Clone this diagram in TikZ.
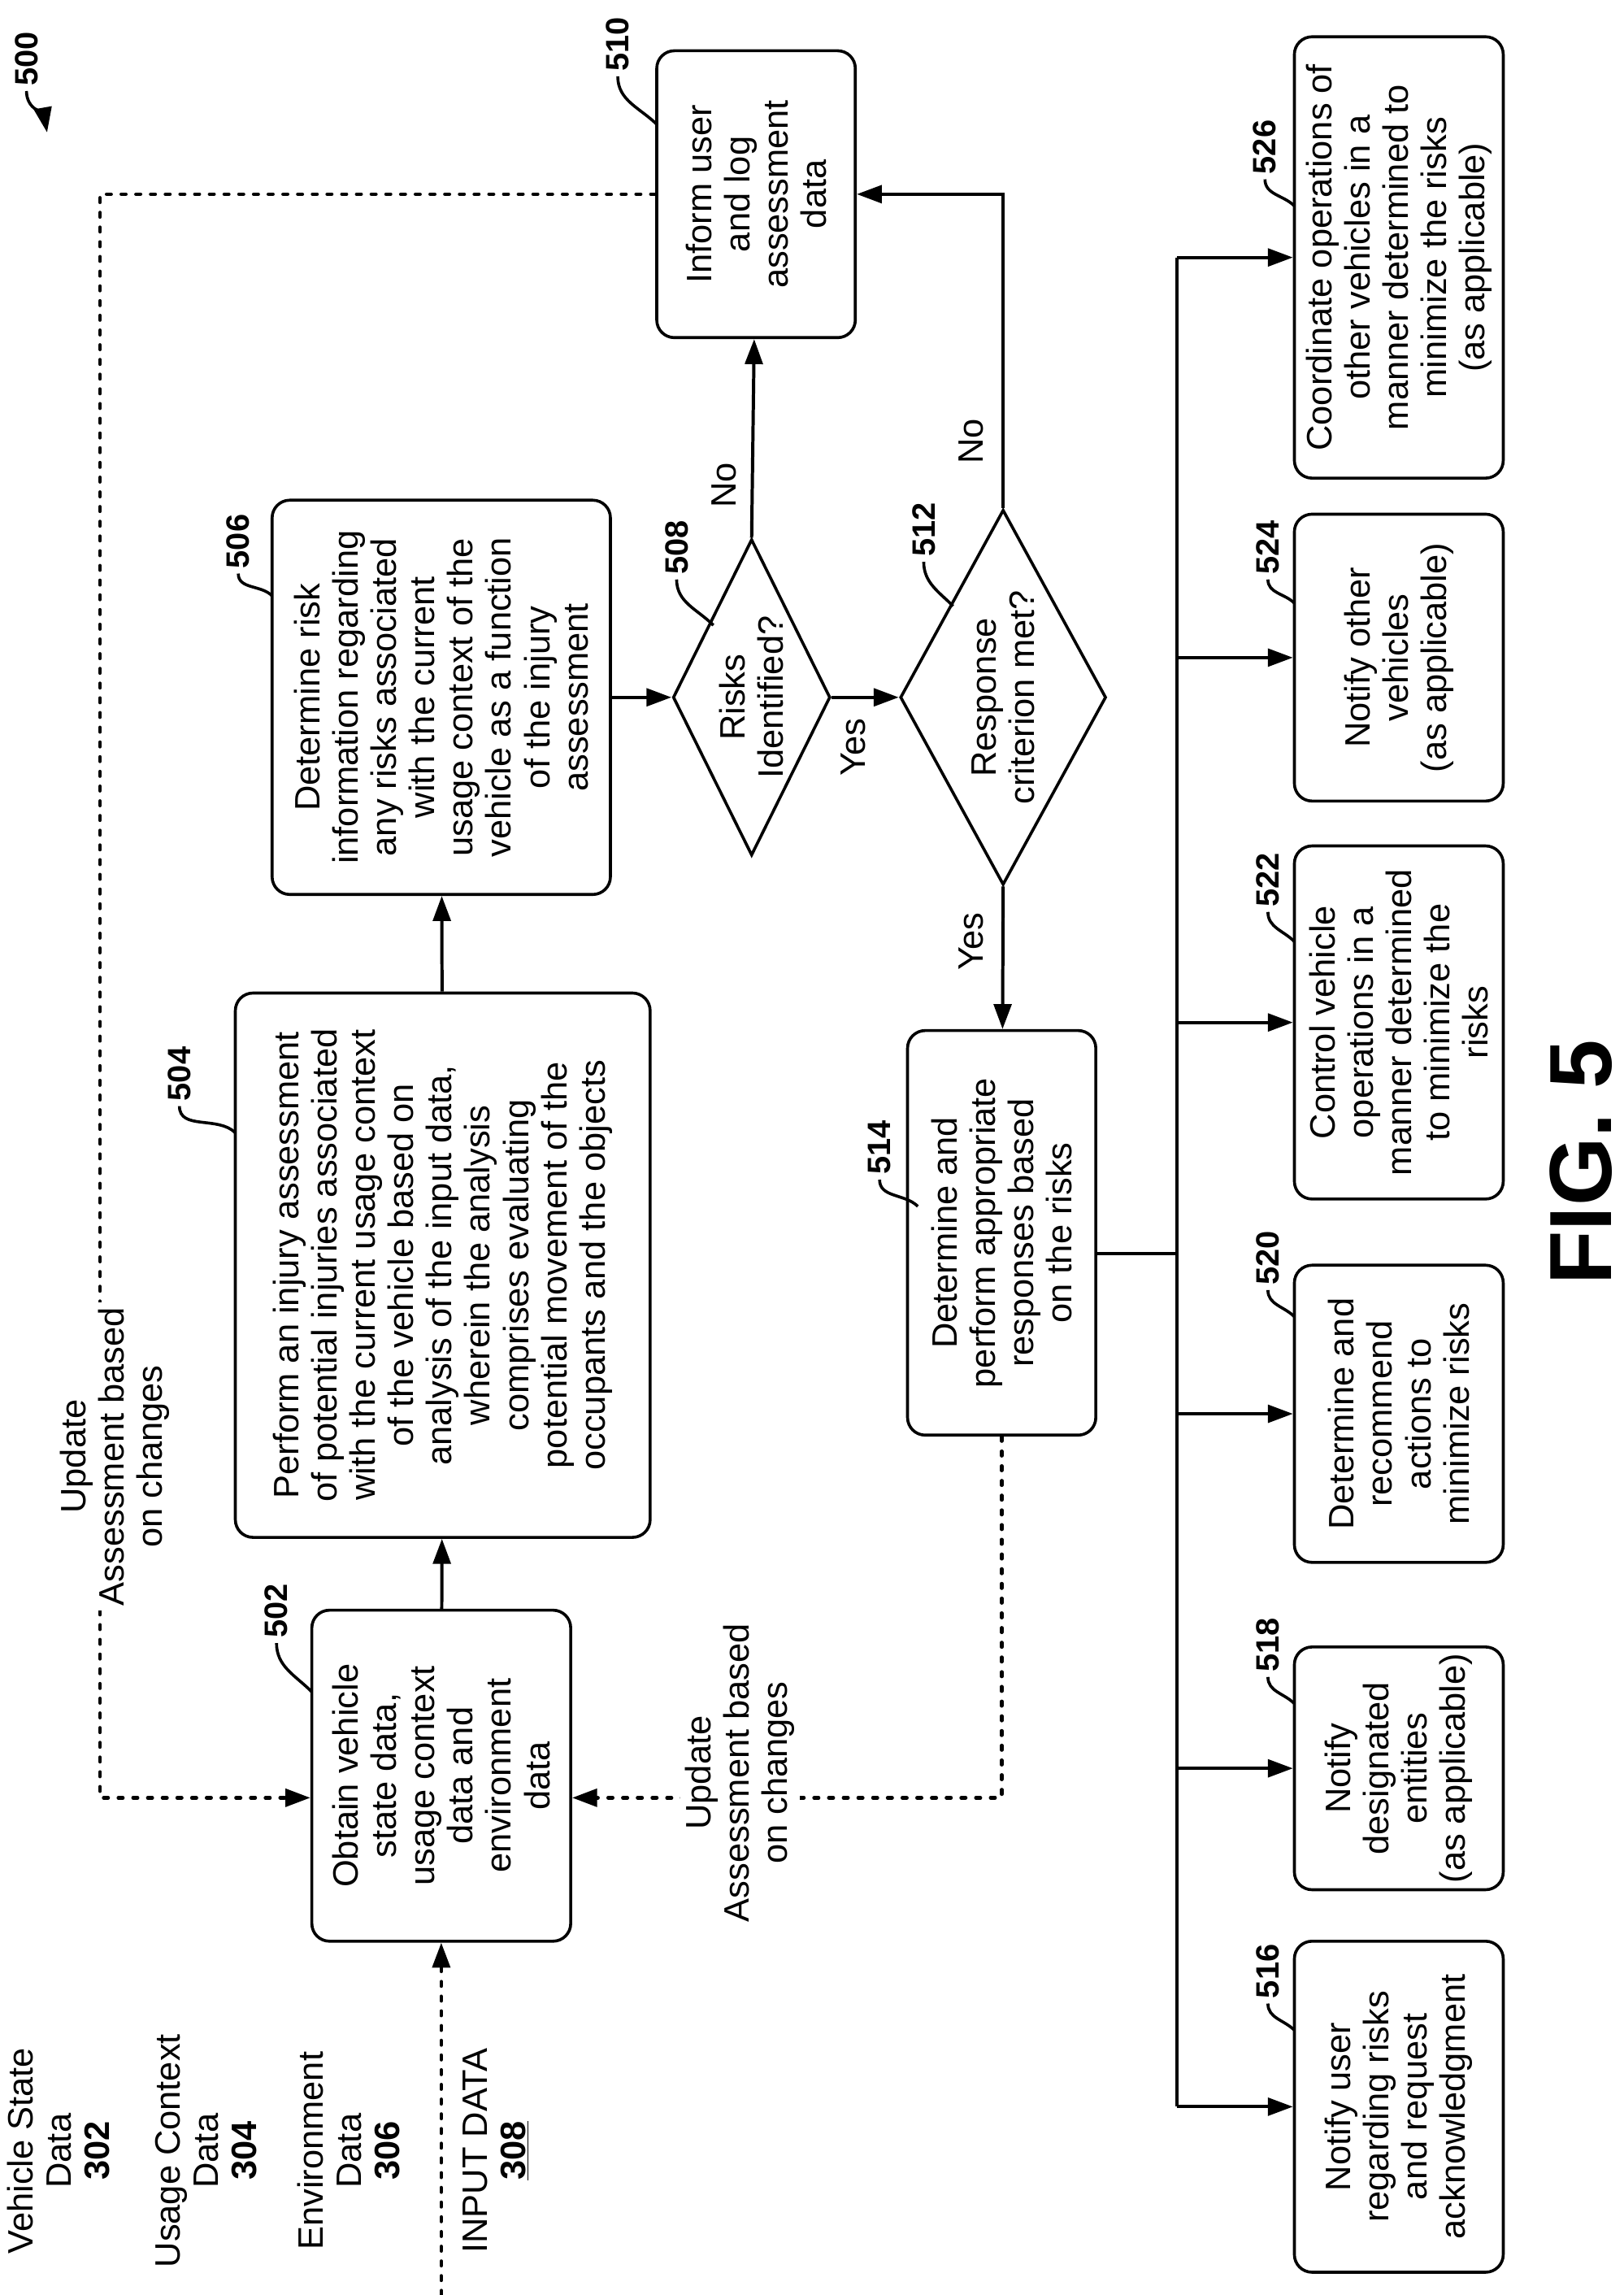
\documentclass[tikz,border=0pt]{standalone}
\usepackage{fontspec}
\setmainfont{Liberation Sans}
\usetikzlibrary{shapes.geometric, arrows.meta}
\tikzset{x=1pt, y=-1pt, every node/.style={font=\fontsize{24}{26}\selectfont},
  box/.style={draw, rounded corners=12pt, line width=2pt, rotate=90, align=center, inner sep=1pt},
  dec/.style={draw, diamond, line width=2pt, rotate=90, inner sep=0pt, label={[rotate=90, align=center]center:#1}},
  num/.style={rotate=90, font=\fontsize{22}{24}\bfseries},
  lbl/.style={rotate=90, align=center},
  flow/.style={line width=2.2pt, -{Triangle[length=17pt,width=12pt]}},
  upd/.style={line width=2.5pt, line cap=round, dash pattern=on 3pt off 7pt, -{Triangle[length=17pt,width=12pt]}},
  lead/.style={line width=2pt}}
\begin{document}
\begin{tikzpicture}
\useasboundingbox (0,0) rectangle (1103.6,1560);
% main chain
\node[box, minimum width=225pt, minimum height=176pt] (n502) at (300,1207) {Obtain vehicle\\state data,\\usage context\\data and\\environment\\data};
\node[box, minimum width=370pt, minimum height=282pt] (n504) at (301,860) {Perform an injury assessment\\of potential injuries associated\\with the current usage context\\of the vehicle based on\\analysis of the input data,\\wherein the analysis\\comprises evaluating\\potential movement of the\\occupants and the objects};
\node[box, minimum width=268pt, minimum height=230pt] (n506) at (300,474) {Determine risk\\information regarding\\any risks associated\\with the current\\usage context of the\\vehicle as a function\\of the injury\\assessment};
\node[dec={Risks\\Identified?}, minimum width=215pt, minimum height=107pt] (n508) at (511,474) {};
\node[box, minimum width=195pt, minimum height=135pt] (n510) at (514,132) {Inform user\\and log\\assessment\\data};
\node[dec={Response\\criterion met?}, minimum width=255pt, minimum height=140pt] (n512) at (682,474) {};
\node[box, minimum width=275pt, minimum height=128pt] (n514) at (681,838) {Determine and\\perform appropriate\\responses based\\on the risks};
% responses
\node[box, minimum width=225pt, minimum height=142pt] (n516) at (951,1432) {Notify user\\regarding risks\\and request\\acknowledgment};
\node[box, minimum width=165pt, minimum height=142pt] (n518) at (951,1202) {Notify\\designated\\entities\\(as applicable)};
\node[box, minimum width=202pt, minimum height=142pt] (n520) at (951,961) {Determine and\\recommend\\actions to\\minimize risks};
\node[box, minimum width=240pt, minimum height=142pt] (n522) at (951,695) {Control vehicle\\operations in a\\manner determined\\to minimize the\\risks};
\node[box, minimum width=195pt, minimum height=142pt] (n524) at (951,447) {Notify other\\vehicles\\(as applicable)};
\node[box, minimum width=300pt, minimum height=142pt] (n526) at (951,175) {Coordinate operations of\\other vehicles in a\\manner determined to\\minimize the risks\\(as applicable)};
% input labels
\node[lbl] (vsd) at (40,1462) {Vehicle State\\Data\\\textbf{302}};
\node[lbl] (ucd) at (140,1462) {Usage Context\\Data\\\textbf{304}};
\node[lbl] (evd) at (237,1462) {Environment\\Data\\\textbf{306}};
\node[lbl] (inp) at (337,1462) {INPUT DATA\\\underline{\textbf{308}}};
\coordinate (src) at (300,1560);
\draw[upd] (src) -- (n502);
% flow
\draw[flow] (n502) -- (n504);
\draw[flow] (n504) -- (n506);
\draw[flow] (n506) -- (n508);
\draw[flow] (n508.east) -- (n510);
\draw[flow] (n508.south) -- (n512.north);
\draw[flow] (n512.east) |- (n510);
\draw[flow] (n512.west) -- (n514);
\node[lbl] (no1) at (492,330) {No};
\node[lbl] (yes1) at (580,508) {Yes};
\node[lbl] (no2) at (660,300) {No};
\node[lbl] (yes2) at (660,640) {Yes};
% bus to responses
\coordinate (bus) at (800,852);
\draw[line width=2.2pt] (n514.south |- bus) -- (bus);
\draw[line width=2.2pt] (800,175) -- (800,1432);
\foreach \k in {516,518,520,522,524,526}{
  \coordinate (b\k) at (n\k.north -| bus);
  \draw[flow] (b\k) -- (n\k.north);
}
% feedback
\coordinate (fa) at (68,132);
\coordinate (fb) at (68,1222);
\draw[upd] (n510.north |- fa) -- (fa) -- (fb) -- (fb -| n502.north);
\node[lbl, fill=white] (u1) at (78,990) {Update\\Assessment based\\on changes};
\coordinate (fc) at (681,1222);
\draw[upd] (n514.west) -- (fc) -- (fc -| n502.south);
\node[lbl, fill=white] (u2) at (503,1205) {Update\\Assessment based\\on changes};
% callouts
\foreach \k/\x/\y/\ex/\ey in {502/188/1095/212/1150, 504/122/730/160/770, 506/162/368/185/405,
  508/460/372/485/425, 510/420/30/447/85, 512/628/360/648/412, 514/598/780/624/820,
  516/862/1340/880/1380, 518/862/1118/880/1158, 520/862/855/880/895, 522/862/598/880/640,
  524/862/372/880/410, 526/860/100/880/140}{
  \node[num] (l\k) at (\x,\y) {\k};
  \coordinate (e\k) at (\ex,\ey);
  \draw[lead] (l\k.west) to[out=-90, in=135] (e\k);
}
\node[num] (l500) at (18,40) {500};
\coordinate (e500) at (32,90);
\draw[line width=2pt, -{Triangle[length=17pt,width=12pt]}] (l500.west) to[out=-90, in=100] (e500);
\node[rotate=90, font=\fontsize{60}{60}\bfseries] (fig) at (1075,790) {FIG. 5};
\end{tikzpicture}
\end{document}
